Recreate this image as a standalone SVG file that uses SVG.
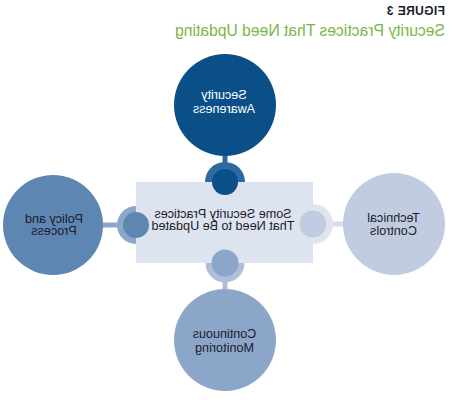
<svg xmlns="http://www.w3.org/2000/svg" width="450" height="400" viewBox="0 0 450 400">
<style>
text { font-family: "Liberation Sans", Arial, sans-serif; }
.lbl { font-size: 12.6px; fill: #1c1c2a; text-anchor: middle; }
.wht { fill: #ffffff; }
.title { font-size: 12px; font-weight: bold; fill: #1c1c2a; letter-spacing: 0.4px; }
.sub { font-size: 15.7px; fill: #7ab648; }
.conn { stroke-width: 5; fill: none; }
</style>
<rect width="450" height="400" fill="#ffffff"/>
<g id="header">
<text class="title" x="5" y="15" transform="matrix(-1 0 0 1 450 0)">FIGURE 3</text>
<text class="sub" x="5" y="35.5" transform="matrix(-1 0 0 1 450 0)">Security Practices That Need Updating</text>
</g>
<g id="connectors">
<line class="conn" x1="225" y1="150" x2="225" y2="182" stroke="#2e6aa1"/>
<line class="conn" x1="100" y1="225" x2="136" y2="225" stroke="#8ca6ca"/>
<line class="conn" x1="313" y1="224" x2="350" y2="224" stroke="#d6ddeb"/>
<line class="conn" x1="225" y1="263" x2="225" y2="295" stroke="#aebfd9"/>
</g>
<g id="node-security-awareness">
<circle cx="225" cy="105" r="51" fill="#0b4f88"/>
<circle cx="225" cy="182" r="20" fill="#2e6aa1"/>
</g>
<g id="node-policy-process">
<circle cx="53" cy="225" r="50" fill="#5e86b3"/>
<circle cx="136" cy="225" r="19" fill="#8ca6ca"/>
</g>
<g id="node-technical-controls">
<circle cx="394" cy="224" r="51" fill="#c1cce0"/>
<circle cx="313" cy="224" r="20" fill="#dfe5f0"/>
</g>
<g id="node-continuous-monitoring">
<circle cx="225" cy="340" r="51" fill="#8ca6ca"/>
<circle cx="225" cy="263" r="19.5" fill="#aebfd9"/>
</g>
<g id="node-center">
<rect x="136" y="182" width="177" height="81" fill="#dde3ef"/>
</g>
<g id="ports">
<circle cx="225" cy="182" r="13" fill="#0b4f88"/>
<circle cx="136" cy="225" r="13" fill="#5e86b3"/>
<circle cx="313" cy="224" r="13.5" fill="#c1cce0"/>
<circle cx="225" cy="263" r="13.5" fill="#8ca6ca"/>
</g>
<g id="labels">
<text class="lbl" transform="matrix(-1 0 0 1 450 0)" x="227" y="217.5">Some Security Practices</text>
<text class="lbl" transform="matrix(-1 0 0 1 450 0)" x="227" y="230">That Need to Be Updated</text>
<text class="lbl wht" transform="matrix(-1 0 0 1 450 0)" x="226" y="99">Security</text>
<text class="lbl wht" transform="matrix(-1 0 0 1 450 0)" x="226" y="113">Awareness</text>
<text class="lbl" transform="matrix(-1 0 0 1 450 0)" x="396" y="222.5">Policy and</text>
<text class="lbl" transform="matrix(-1 0 0 1 450 0)" x="396" y="235">Process</text>
<text class="lbl" transform="matrix(-1 0 0 1 450 0)" x="56.5" y="221.5">Technical</text>
<text class="lbl" transform="matrix(-1 0 0 1 450 0)" x="56.5" y="235">Controls</text>
<text class="lbl" transform="matrix(-1 0 0 1 450 0)" x="225.5" y="338">Continuous</text>
<text class="lbl" transform="matrix(-1 0 0 1 450 0)" x="225.5" y="352">Monitoring</text>
</g>
</svg>
